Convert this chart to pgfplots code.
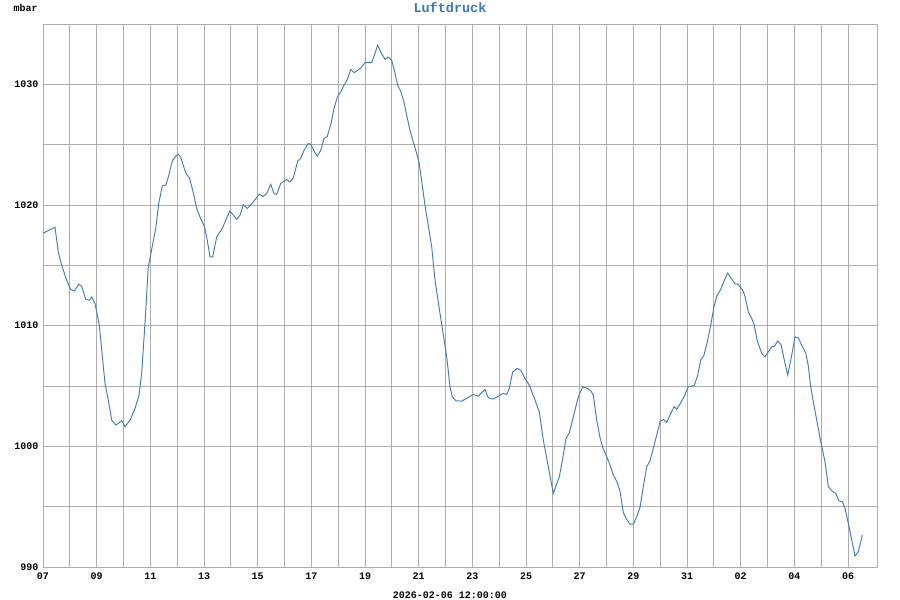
\documentclass[border=0pt]{standalone}
\usepackage{pgfplots}
\pgfplotsset{compat=1.18}
\usepackage{fontspec}
\setmainfont{Liberation Mono}
\definecolor{linec}{RGB}{58,126,190}
\definecolor{titlec}{RGB}{52,122,190}
\definecolor{gridc}{RGB}{172,172,172}
\begin{document}
\begin{tikzpicture}[x=1pt,y=1pt]
\useasboundingbox (0,0) rectangle (900,600);
\begin{axis}[
  at={(43pt,33pt)}, anchor=south west,
  scale only axis, width=834pt, height=543pt,
  xmin=0, xmax=31.08, ymin=990, ymax=1035,
  xtick={0,2,...,30},
  xticklabels={07,09,11,13,15,17,19,21,23,25,27,29,31,02,04,06},
  minor xtick={1,3,...,29},
  ytick={990,1000,...,1030},
  minor ytick={995,1005,...,1025},
  grid=both,
  major grid style={gridc, line width=0.9pt},
  minor grid style={gridc, line width=0.9pt},
  axis line style={gridc, line width=0.9pt},
  major tick length=0pt, minor tick length=0pt,
  tick label style={font=\bfseries\fontsize{10}{12}\selectfont, text=black},
  /pgf/number format/assume math mode=true,
  /pgf/number format/1000 sep={},
  xticklabel style={yshift=-2pt},
  yticklabel style={xshift=-1pt},
]
\addplot[linec, line width=0.95pt, mark=none] coordinates {
(0.000,1017.66) (0.447,1018.16) (0.570,1016.11) (0.697,1015.01) (0.883,1013.77)
(1.032,1013.00) (1.166,1012.88) (1.342,1013.44) (1.442,1013.27) (1.591,1012.19)
(1.725,1012.11) (1.815,1012.38) (1.938,1011.84) (2.098,1010.04) (2.311,1005.21)
(2.434,1003.83) (2.560,1002.17) (2.720,1001.76) (2.933,1002.12) (3.056,1001.62)
(3.242,1002.17) (3.429,1003.14) (3.578,1004.24) (3.678,1006.07) (3.801,1010.21)
(3.924,1014.87) (4.200,1018.05) (4.323,1020.25) (4.446,1021.58) (4.573,1021.64)
(4.670,1022.32) (4.819,1023.65) (4.945,1024.04) (5.042,1024.20) (5.132,1023.98)
(5.206,1023.43) (5.329,1022.60) (5.452,1022.27) (5.579,1021.22) (5.728,1019.71)
(5.851,1019.01) (6.011,1018.24) (6.101,1017.35) (6.224,1015.70) (6.324,1015.70)
(6.473,1017.35) (6.697,1018.13) (6.820,1018.80) (6.969,1019.51) (7.092,1019.15)
(7.219,1018.80) (7.342,1019.15) (7.465,1020.04) (7.614,1019.71) (7.837,1020.25)
(8.061,1020.89) (8.210,1020.72) (8.337,1020.95) (8.486,1021.72) (8.609,1020.95)
(8.709,1020.87) (8.858,1021.78) (9.082,1022.11) (9.205,1021.91) (9.328,1022.24)
(9.492,1023.65) (9.604,1023.85) (9.727,1024.53) (9.887,1025.09) (9.977,1025.03)
(10.099,1024.48) (10.222,1024.04) (10.349,1024.53) (10.472,1025.50) (10.595,1025.69)
(10.733,1026.75) (10.845,1027.99) (10.968,1028.95) (11.094,1029.36) (11.217,1029.92)
(11.340,1030.39) (11.467,1031.22) (11.601,1030.97) (11.840,1031.35) (12.000,1031.80)
(12.250,1031.80) (12.473,1033.23) (12.622,1032.54) (12.745,1032.07) (12.868,1032.26)
(12.995,1031.99) (13.092,1031.16) (13.219,1029.92) (13.330,1029.42) (13.453,1028.53)
(13.554,1027.43) (13.677,1026.19) (13.800,1025.22) (13.927,1024.26) (14.024,1023.43)
(14.113,1021.97) (14.236,1019.98) (14.486,1016.53) (14.609,1013.77) (14.795,1011.01)
(15.045,1007.42) (15.168,1004.93) (15.253,1004.10) (15.391,1003.77) (15.604,1003.75)
(15.790,1003.97) (16.036,1004.30) (16.222,1004.16) (16.472,1004.72) (16.595,1004.02)
(16.781,1003.91) (16.968,1004.16) (17.154,1004.39) (17.281,1004.30) (17.378,1004.80)
(17.504,1006.17) (17.676,1006.46) (17.802,1006.31) (17.963,1005.63) (18.123,1005.07)
(18.335,1003.83) (18.495,1002.86) (18.645,1000.52) (18.831,998.31) (19.018,996.10)
(19.241,997.48) (19.368,999.00) (19.491,1000.66) (19.614,1001.12) (19.763,1002.45)
(19.949,1004.10) (20.113,1004.93) (20.262,1004.82) (20.411,1004.62) (20.508,1004.24)
(20.635,1002.17) (20.758,1000.72) (20.870,999.83) (21.008,999.13) (21.131,998.45)
(21.254,997.62) (21.391,997.04) (21.503,996.29) (21.626,994.50) (21.752,993.95)
(21.875,993.56) (21.998,993.54) (22.125,994.17) (22.248,994.94) (22.371,996.65)
(22.498,998.31) (22.621,998.80) (22.744,999.83) (22.871,1000.93) (22.994,1002.03)
(23.117,1002.23) (23.244,1001.98) (23.366,1002.59) (23.516,1003.28) (23.616,1003.08)
(23.765,1003.61) (23.888,1004.10) (24.048,1004.95) (24.261,1005.03) (24.384,1005.76)
(24.510,1007.14) (24.633,1007.56) (24.756,1008.66) (24.883,1010.04) (25.006,1011.56)
(25.107,1012.44) (25.256,1013.00) (25.379,1013.69) (25.517,1014.37) (25.666,1013.85)
(25.789,1013.49) (25.912,1013.41) (26.076,1012.94) (26.161,1012.44) (26.284,1011.14)
(26.411,1010.60) (26.497,1010.10) (26.620,1008.72) (26.784,1007.70) (26.907,1007.42)
(27.030,1007.83) (27.157,1008.24) (27.254,1008.30) (27.380,1008.72) (27.503,1008.44)
(27.626,1007.14) (27.753,1005.90) (27.902,1007.56) (28.025,1009.07) (28.148,1008.99)
(28.274,1008.38) (28.423,1007.75) (28.521,1006.65) (28.610,1004.93) (28.707,1003.69)
(28.856,1001.90) (28.983,1000.38) (29.143,998.72) (29.266,996.65) (29.392,996.32)
(29.541,996.10) (29.664,995.49) (29.787,995.41) (29.888,994.86) (30.011,993.62)
(30.138,992.24) (30.261,990.91) (30.384,991.27) (30.533,992.65)
};
\end{axis}
\node[font=\bfseries\fontsize{13.5}{15}\selectfont, text=titlec] at (450,592) {Luftdruck};
\node[font=\bfseries\fontsize{10}{12}\selectfont, anchor=west] at (10,592) {mbar};
\node[font=\bfseries\fontsize{10}{12}\selectfont] at (450,5) {2026-02-06 12:00:00};
\end{tikzpicture}
\end{document}
